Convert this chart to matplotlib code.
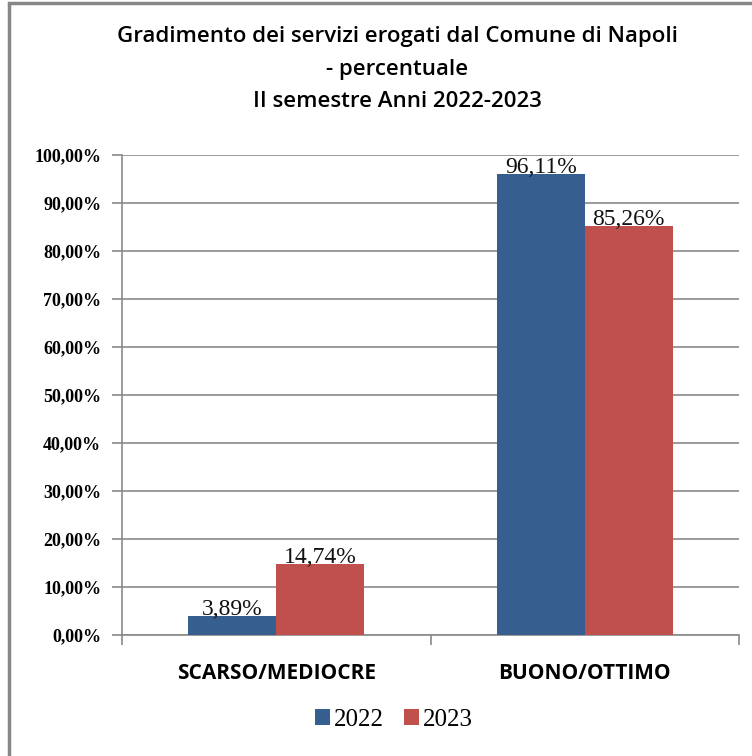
import matplotlib.pyplot as plt
import numpy as np
from matplotlib.patches import Rectangle

categories = ['SCARSO/MEDIOCRE', 'BUONO/OTTIMO']
years = ['2022', '2023']
values_2022 = [3.89, 96.11]
values_2023 = [14.74, 85.26]
y_ticks = [0, 10, 20, 30, 40, 50, 60, 70, 80, 90, 100]
title_lines = ['Gradimento dei servizi erogati dal Comune di Napoli',
               '- percentuale',
               'II semestre Anni 2022-2023']

colors = ['#365E8F', '#BF504D']
grid_col = '#8A8A8A'


def pct(v):
    return f'{v:.2f}'.replace('.', ',') + '%'


fig = plt.figure(figsize=(7.52, 7.56), dpi=100)
W, H = 752, 756

# outer chart border (cropped on right and bottom)
fig.patches.append(Rectangle((9 / W, -0.02), 1.0, 1 - 3 / H + 0.02, transform=fig.transFigure,
                             fill=False, edgecolor='#878787', linewidth=2.5))

ax = fig.add_axes([122 / W, 1 - 635 / H, 617 / W, 480 / H])

x = np.arange(len(categories))
bw = 0.285
series = [values_2022, values_2023]
for i, (vals, col) in enumerate(zip(series, colors)):
    pos = x + (i - 0.5) * bw
    ax.bar(pos, vals, width=bw, color=col, zorder=3, label=years[i])
    for p, v in zip(pos, vals):
        ax.annotate(pct(v), (p, v), xytext=(0, -3), textcoords='offset points',
                    ha='center', va='bottom', fontsize=17, family='Liberation Serif',
                    color='#111111', zorder=4)

ax.set_xlim(-0.5, 1.5)
ax.set_ylim(0, 100)
ax.set_yticks(y_ticks)
ax.set_yticklabels([pct(v) for v in y_ticks], family='Liberation Serif',
                   fontsize=13, fontweight='bold')
ax.yaxis.grid(True, color=grid_col, linewidth=1.2, zorder=0)
ax.set_xticks([-0.5, 0.5, 1.5], minor=False)
ax.set_xticklabels([])
ax.set_xticks(x, minor=True)
ax.set_xticklabels(categories, minor=True, family='Open Sans', fontweight='bold', fontsize=15)
ax.tick_params(axis='x', which='minor', length=0, pad=20)
ax.tick_params(axis='x', which='major', length=7, color=grid_col, width=1.2)
ax.tick_params(axis='y', length=7, color=grid_col, width=1.2, pad=8)

for s in ['top', 'right']:
    ax.spines[s].set_visible(False)
for s in ['left', 'bottom']:
    ax.spines[s].set_color(grid_col)
    ax.spines[s].set_linewidth(1.2)

for line, yb in zip(title_lines, [42, 74.5, 107]):
    fig.text(397 / W, 1 - yb / H, line, ha='center', va='baseline',
             family='Open Sans', fontweight='semibold', fontsize=16)

leg = fig.legend(loc='center', bbox_to_anchor=(394 / W, 1 - 720 / H), ncol=2, frameon=False,
                 prop={'family': 'Liberation Serif', 'size': 18}, handlelength=0.6,
                 handleheight=0.6, handletextpad=0.15, columnspacing=0.8)

fig.savefig('out.png', dpi=100)
